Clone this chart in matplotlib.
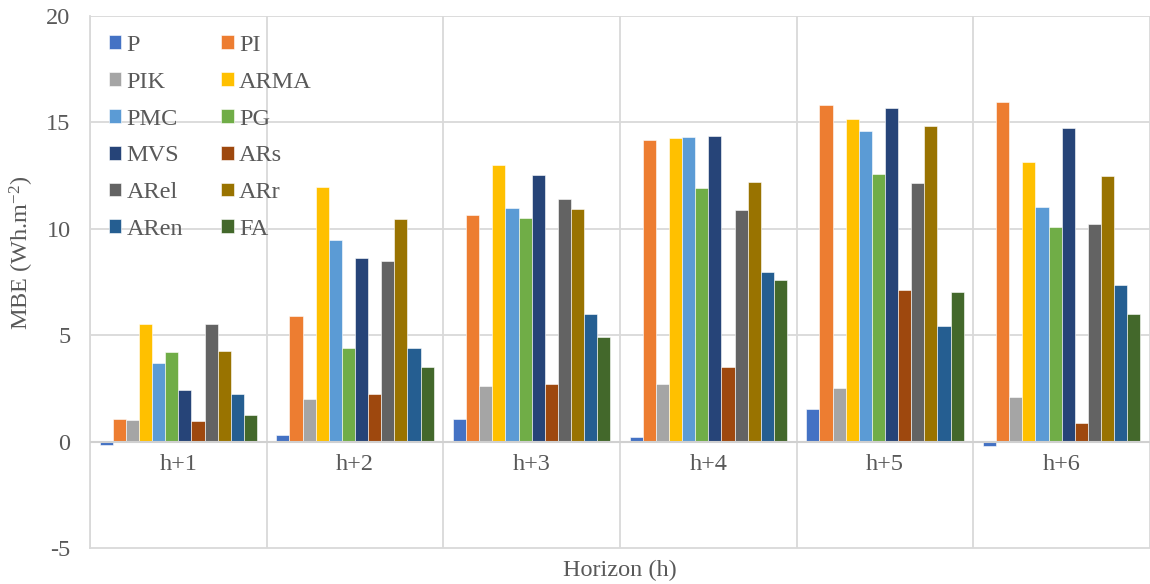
import matplotlib
matplotlib.use("Agg")
import matplotlib.pyplot as plt
import numpy as np

horizons = ["h+1", "h+2", "h+3", "h+4", "h+5", "h+6"]
models = ["P", "PI", "PIK", "ARMA", "PMC", "PG", "MVS", "ARs", "ARel", "ARr", "ARen", "FA"]
colors = ["#4472C4", "#ED7D31", "#A5A5A5", "#FFC000", "#5B9BD5", "#70AD47",
          "#264478", "#9E480E", "#636363", "#997300", "#255E91", "#43682B"]

P    = [-0.17, 0.31, 1.07, 0.22, 1.53, -0.23]
PI   = [1.05, 5.90, 10.63, 14.15, 15.84, 15.95]
PIK  = [1.02, 1.99, 2.60, 2.72, 2.54, 2.10]
ARMA = [5.54, 11.96, 12.98, 14.26, 15.15, 13.16]
PMC  = [3.71, 9.48, 11.00, 14.32, 14.59, 11.03]
PG   = [4.21, 4.40, 10.49, 11.90, 12.57, 10.07]
MVS  = [2.44, 8.61, 12.52, 14.38, 15.70, 14.74]
ARs  = [0.97, 2.24, 2.69, 3.51, 7.12, 0.86]
ARel = [5.54, 8.48, 11.41, 10.89, 12.16, 10.21]
ARr  = [4.27, 10.45, 10.94, 12.19, 14.84, 12.46]
ARen = [2.22, 4.41, 6.00, 7.95, 5.42, 7.36]
FA   = [1.25, 3.52, 4.90, 7.58, 7.03, 6.01]

series = [P, PI, PIK, ARMA, PMC, PG, MVS, ARs, ARel, ARr, ARen, FA]

plt.rcParams['font.family'] = ['Liberation Serif', 'DejaVu Serif']
plt.rcParams['axes.unicode_minus'] = False
plt.rcParams['mathtext.fontset'] = 'custom'
plt.rcParams['mathtext.rm'] = 'Liberation Serif'
plt.rcParams['mathtext.it'] = 'Liberation Serif:italic'
plt.rcParams['mathtext.default'] = 'regular'
txt = "#595959"
fs = 17.5

fig = plt.figure(figsize=(11.5, 5.84), dpi=100)
ax = fig.add_axes([90/1150, 1-548/584, 1060/1150, (548-16)/584])

n = len(series)
x = np.arange(len(horizons))
group_w = 0.89
bw = group_w / n
handles = []
for i, (name, vals, c) in enumerate(zip(models, series, colors)):
    pos = x - group_w/2 + bw*(i+0.5)
    h = ax.bar(pos, vals, width=bw, color=c, label=name, zorder=3,
               edgecolor='white', linewidth=0.4)
    handles.append(h)

ax.set_xlim(-0.5, len(horizons)-0.5)
ax.set_ylim(-5, 20)
ax.set_yticks([-5, 0, 5, 10, 15, 20])
ax.tick_params(axis='y', length=0, pad=14, labelsize=fs, labelcolor=txt)
ax.set_xticks([])
for b in np.arange(-0.5, len(horizons)+0.5, 1):
    ax.axvline(b, color="#D9D9D9", lw=1.3, zorder=0)
for yv in [5, 10, 15, 20]:
    ax.axhline(yv, color="#D9D9D9", lw=1.3, zorder=0)
ax.axhline(0, color="#D0D0D0", lw=1.5, zorder=4)
for s in ["top", "right"]:
    ax.spines[s].set_visible(False)
ax.spines["left"].set_color("#D9D9D9")
ax.spines["bottom"].set_color("#D9D9D9")
ax.spines["left"].set_linewidth(1.3)
ax.spines["bottom"].set_linewidth(1.3)

for xi, lab in zip(x, horizons):
    ax.annotate(lab, xy=(xi, 0), xytext=(0, -9), textcoords='offset points',
                ha='center', va='top', fontsize=fs, color=txt)

order = [0, 2, 4, 6, 8, 10, 1, 3, 5, 7, 9, 11]
leg = ax.legend([handles[i] for i in order], [models[i] for i in order],
                ncol=2, loc='upper left', bbox_to_anchor=(0.0, 1.0),
                frameon=False, fontsize=fs, labelcolor=txt,
                handlelength=0.5, handleheight=0.5, handletextpad=0.22,
                columnspacing=1.58, labelspacing=0.65, borderaxespad=0.38)

fig.text(620/1150, 1-570/584, "Horizon (h)", ha='center', va='center',
         fontsize=fs, color=txt)
fig.text(22/1150, 1-253/584, "MBE (Wh.m$^{-2}$)", ha='center', va='center',
         rotation=90, fontsize=fs, color=txt)

fig.savefig("out.png", dpi=100)
